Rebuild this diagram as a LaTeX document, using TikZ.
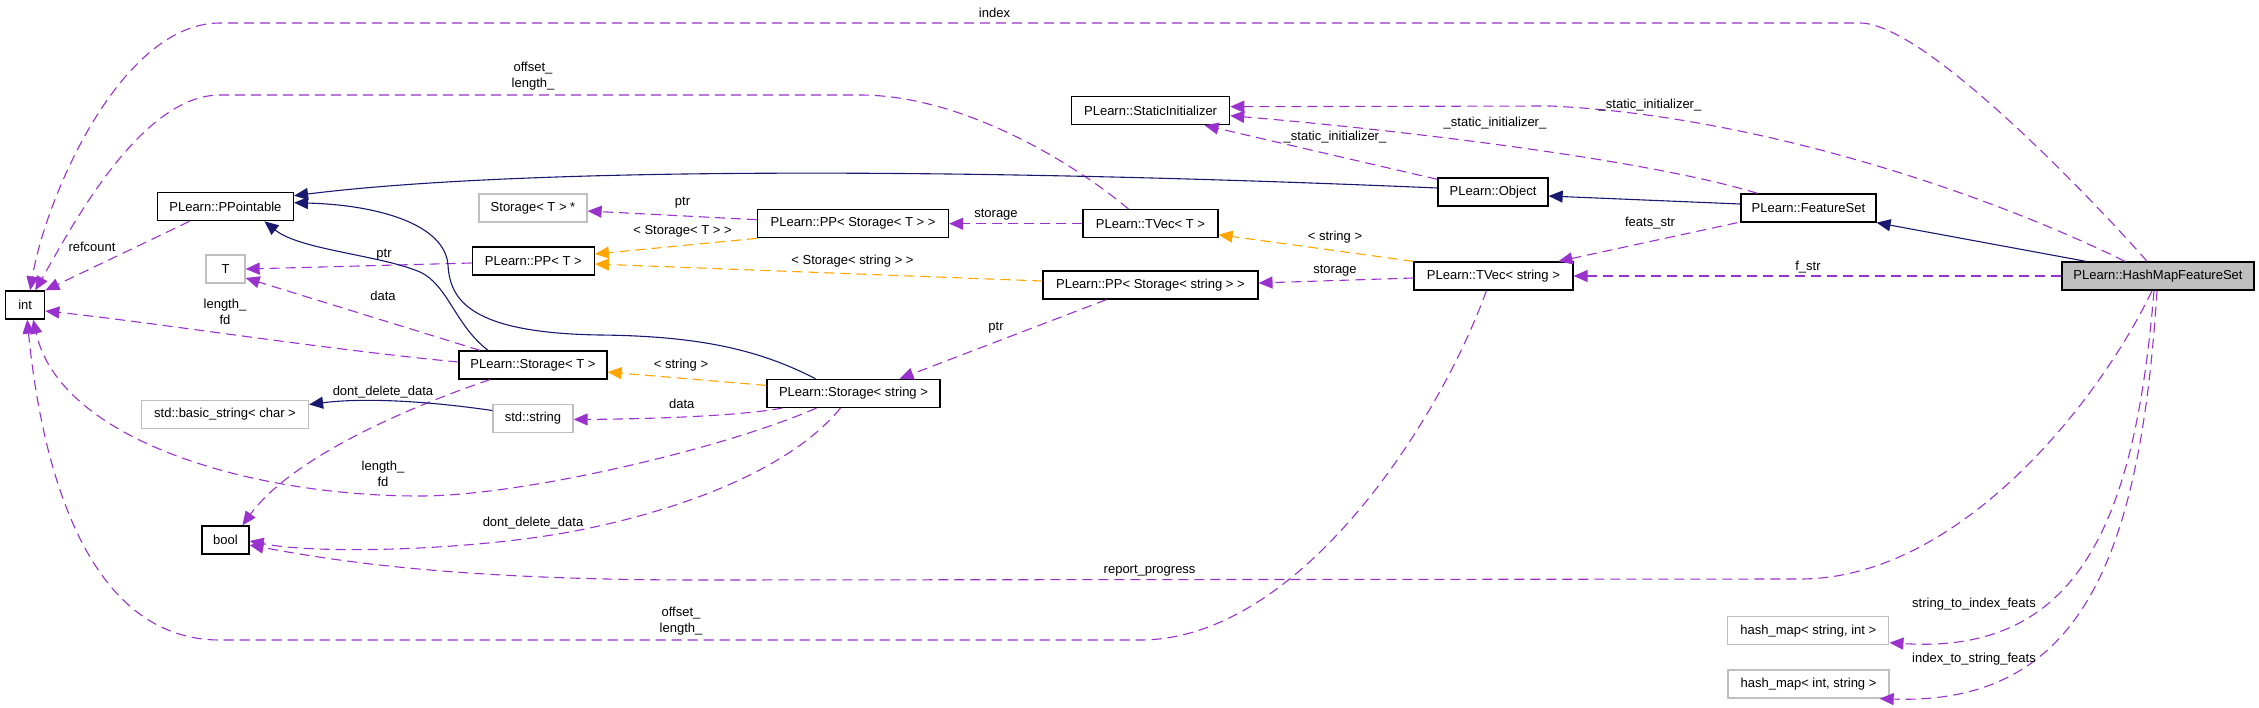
\documentclass[tikz,border=0pt]{standalone}
\usepackage{fontspec}
\setmainfont{Liberation Sans}
\usetikzlibrary{arrows.meta}
\definecolor{edgepurple}{HTML}{9A32CD}
\definecolor{edgeorange}{HTML}{FFA500}
\definecolor{edgenavy}{HTML}{191970}
\definecolor{boxgray}{HTML}{BFBFBF}
\newcommand\dxfont{\fontsize{13}{16}\selectfont}
\begin{document}
\begin{tikzpicture}[x=1pt,y=-1pt,
  cls/.style={draw=black, line width=1.3pt, minimum height=28pt, inner sep=0pt, font=\dxfont, fill=white},
  ext/.style={cls, draw=boxgray},
  lbl/.style={font=\dxfont, inner sep=0pt, align=center},
  tipstyle/.style={-{Triangle[length=14pt,width=12pt]}},
  ref/.style={draw=edgepurple, line width=1.1pt, dash pattern=on 10pt off 6pt, tipstyle},
  tmpl/.style={draw=edgeorange, line width=1.1pt, dash pattern=on 10pt off 6pt, tipstyle},
  inh/.style={draw=edgenavy, line width=1.1pt, tipstyle}]
\useasboundingbox (0,0) rectangle (2259,707);

% nodes
\node[cls, minimum width=39pt] (int) at (25.2,305) {int};
\node[cls, minimum width=136pt] (ppa) at (225.4,206.7) {PLearn::PPointable};
\node[ext, minimum width=108pt] (sts) at (533,208) {Storage< T > *};
\node[ext, minimum width=39pt] (t) at (225.5,269) {T};
\node[cls, minimum width=122pt] (ppt) at (533.3,261) {PLearn::PP< T >};
\node[cls, minimum width=191pt] (ppst) at (853,223.7) {PLearn::PP< Storage< T > >};
\node[cls, minimum width=135pt] (tvt) at (1150.5,223.7) {PLearn::TVec< T >};
\node[cls, minimum width=158pt] (si) at (1150.6,110.7) {PLearn::StaticInitializer};
\node[cls, minimum width=110pt] (obj) at (1493,192) {PLearn::Object};
\node[cls, minimum width=215pt] (pps) at (1150.4,285) {PLearn::PP< Storage< string > >};
\node[cls, minimum width=159pt] (tvs) at (1493.4,276) {PLearn::TVec< string >};
\node[cls, minimum width=135pt] (fs) at (1808.4,208) {PLearn::FeatureSet};
\node[cls, fill=boxgray, minimum width=192pt] (hm) at (2158,276) {PLearn::HashMapFeatureSet};
\node[cls, minimum width=148pt] (stT) at (533,365) {PLearn::Storage< T >};
\node[cls, minimum width=173pt] (stS) at (853.5,393.4) {PLearn::Storage< string >};
\node[ext, minimum width=167pt] (bstr) at (225,414.5) {std::basic\_string< char >};
\node[ext, minimum width=80pt] (sstr) at (533,418.5) {std::string};
\node[cls, minimum width=47pt] (bool) at (225.4,540) {bool};
\node[ext, minimum width=161pt] (hm1) at (1808.3,630.7) {hash\_map< string, int >};
\node[ext, minimum width=161pt] (hm2) at (1808.5,684) {hash\_map< int, string >};

% edges
\draw[ref] ([xshift=-11pt]hm.north) .. controls (2120,230) and (1930,23) .. (1860,23) -- (220,23) .. controls (120,23) and (45,200) .. ([xshift=5pt]int.north);
\draw[ref] ([xshift=-22pt]tvt.north) .. controls (1070,160) and (960,95) .. (860,95) -- (220,95) .. controls (140,95) and (70,230) .. ([xshift=10pt]int.north);
\draw[ref] ([xshift=-36pt]ppa.south) -- (int.north east);
\draw[ref] ([yshift=3pt]stT.west) .. controls (330,350) and (150,322) .. ([yshift=-6pt]int.east);
\draw[ref] ([xshift=-37pt]stS.south) .. controls (720,450) and (520,496) .. (420,496) .. controls (250,496) and (60,440) .. ([xshift=8pt]int.south);
\draw[ref] ([xshift=-43pt]stT.south) .. controls (400,410) and (290,460) .. ([xshift=17pt]bool.north);
\draw[ref] ([xshift=-13pt]stS.south) .. controls (790,470) and (680,510) .. (580,530) .. controls (480,550) and (320,555) .. ([yshift=-1pt]bool.east);
\draw[inh] ([yshift=8pt]sstr.west) .. controls (420,400) and (360,398) .. ([yshift=10pt]bstr.east);
\draw[ref] ([xshift=-6pt]hm.south) .. controls (2100,400) and (1960,579) .. (1800,579) -- (700,580) .. controls (450,580) and (330,560) .. ([yshift=-5pt]bool.east);
\draw[ref] ([xshift=-4pt]hm.south) .. controls (2135,520) and (2080,655) .. ([yshift=-12pt]hm1.east);
\draw[ref] ([xshift=-1pt]hm.south) .. controls (2140,560) and (2080,705) .. ([xshift=-10pt]hm2.south east);
\draw[ref] ([xshift=-7pt]tvs.south) .. controls (1440,420) and (1300,640) .. (1140,640) -- (220,640) .. controls (80,640) and (40,450) .. ([xshift=2pt]int.south);
\draw[tmpl] (tvs.north west) -- ([yshift=-11pt]tvt.east);
\draw[ref] ([yshift=-2pt]tvs.west) -- ([yshift=2pt]pps.east);
\draw[ref] (tvt.west) -- (ppst.east);
\draw[ref] ([yshift=4pt]ppst.west) -- ([yshift=-3pt]sts.east);
\draw[tmpl] (ppst.south west) -- ([yshift=7pt]ppt.east);
\draw[tmpl] ([yshift=4pt]pps.west) -- ([yshift=-3pt]ppt.east);
\draw[ref] ([yshift=-2pt]ppt.west) -- (t.east);
\draw[ref] ([xshift=-53pt]stT.north) -- ([yshift=-9pt]t.east);
\draw[inh] ([xshift=-45pt]stT.north) .. controls (455,325) and (448,285) .. (420,272) .. controls (380,255) and (300,250) .. ([xshift=39pt]ppa.south);
\draw[inh] ([xshift=-38pt]stS.north) .. controls (760,350) and (700,336) .. (600,335) .. controls (470,333) and (450,300) .. (448,265) .. controls (445,225) and (380,205) .. ([yshift=4pt]ppa.east);
\draw[inh] ([yshift=4pt]obj.west) .. controls (900,165) and (500,170) .. ([yshift=11pt]ppa.east);
\draw[ref] ([yshift=-2pt]obj.north west) -- ([xshift=54pt]si.south);
\draw[ref] ([xshift=-51pt]fs.north) .. controls (1650,160) and (1400,130) .. ([yshift=-5pt]si.east);
\draw[ref] ([xshift=-33pt]hm.north) .. controls (1980,190) and (1750,115) .. (1550,106) -- ([yshift=4pt]si.east);
\draw[inh] ([yshift=4pt]fs.west) -- ([yshift=-4pt]obj.east);
\draw[inh] ([xshift=-72pt]hm.north) -- (fs.south east);
\draw[ref] ([xshift=-71pt]fs.south) -- ([xshift=65pt]tvs.north);
\draw[ref] (hm.west) -- (tvs.east);
\draw[ref] ([xshift=-44pt]pps.south) -- ([xshift=46pt]stS.north);
\draw[tmpl] ([yshift=8pt]stS.west) -- ([yshift=-7pt]stT.east);
\draw[ref] ([xshift=16pt]stS.south west) .. controls (740,416) and (650,419) .. ([yshift=-1pt]sstr.east);

% labels
\node[lbl] (l1) at (994.5,12.7) {index};
\node[lbl] (l2) at (533,76) {offset\_\\length\_};
\node[lbl] (l3) at (92,247) {refcount};
\node[lbl] (l4) at (225,311.5) {length\_\\fd};
\node[lbl] (l5) at (384,255) {ptr};
\node[lbl] (l6) at (383,296) {data};
\node[lbl] (l7) at (682.5,203) {ptr};
\node[lbl] (l8) at (682.5,231.7) {< Storage< T > >};
\node[lbl] (l9) at (996,214.7) {storage};
\node[lbl] (l10) at (1335,136.7) {\_static\_initializer\_};
\node[lbl] (l11) at (1495,123) {\_static\_initializer\_};
\node[lbl] (l12) at (1650,105) {\_static\_initializer\_};
\node[lbl] (l13) at (1335,237) {< string >};
\node[lbl] (l14) at (1335,270.7) {storage};
\node[lbl] (l15) at (852.5,260.7) {< Storage< string > >};
\node[lbl] (l16) at (996,328) {ptr};
\node[lbl] (l17) at (1650,222.7) {feats\_str};
\node[lbl] (l18) at (1808,266.7) {f\_str};
\node[lbl] (l19) at (681,365) {< string >};
\node[lbl] (l20) at (681.7,404) {data};
\node[lbl] (l21) at (383,392) {dont\_delete\_data};
\node[lbl] (l22) at (383,473.5) {length\_\\fd};
\node[lbl] (l23) at (533,523) {dont\_delete\_data};
\node[lbl] (l24) at (1149.6,570.7) {report\_progress};
\node[lbl] (l25) at (681,621.5) {offset\_\\length\_};
\node[lbl] (l26) at (1974,604) {string\_to\_index\_feats};
\node[lbl] (l27) at (1974,659) {index\_to\_string\_feats};
\end{tikzpicture}
\end{document}
